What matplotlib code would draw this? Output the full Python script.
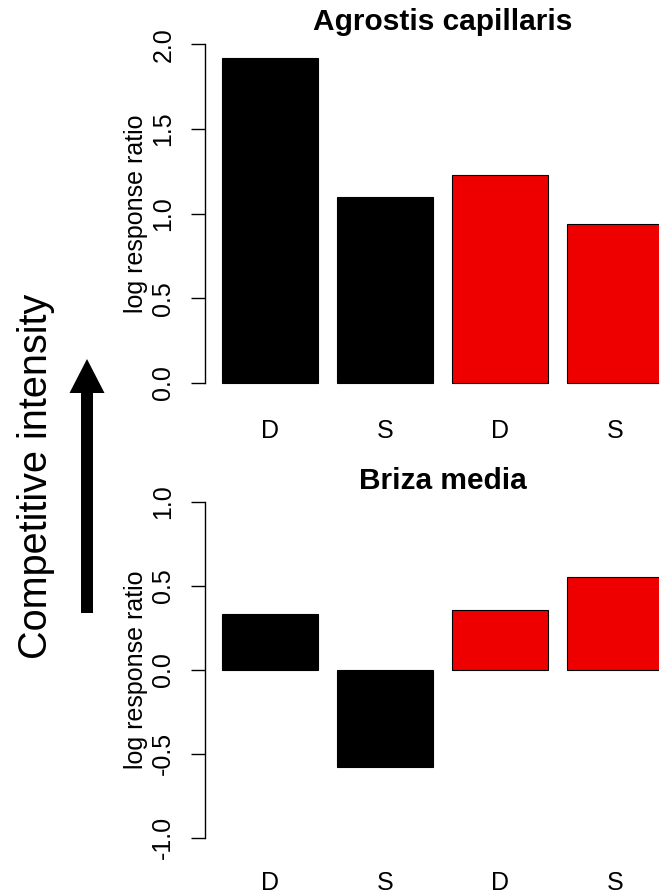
import matplotlib
matplotlib.use('Agg')
import matplotlib.pyplot as plt
from matplotlib.patches import Polygon

plt.rcParams['font.family'] = ['Liberation Sans', 'DejaVu Sans']

labels = ['D', 'S', 'D', 'S']
cols = ['black', 'black', '#EE0000', '#EE0000']
agrostis = [1.92, 1.10, 1.23, 0.94]
briza = [0.33, -0.58, 0.357, 0.552]
xs = [0.7, 1.9, 3.1, 4.3]

W, H = 659, 894
fig = plt.figure(figsize=(W / 100, H / 100), dpi=100)

def px(x0, y0, x1, y1):
    # pixel box -> figure fraction [left, bottom, width, height]
    return [x0 / W, 1 - y1 / H, (x1 - x0) / W, (y1 - y0) / H]

def panel(rect, vals, ylim, ticks, title, title_y, xpad):
    ax = fig.add_axes(rect)
    ax.bar(xs, vals, width=1.0, color=cols, edgecolor='black', linewidth=0.8)
    ax.set_xlim(0.016, 4.984)
    ax.set_ylim(*ylim)
    for s in ['top', 'right', 'bottom']:
        ax.spines[s].set_visible(False)
    ax.spines['left'].set_bounds(ticks[0], ticks[-1])
    ax.spines['left'].set_linewidth(1.0)
    ax.set_yticks(ticks)
    ax.set_yticklabels(['%.1f' % t for t in ticks])
    ax.tick_params(axis='y', length=10, width=1.0, pad=11, labelsize=18,
                   labelrotation=90)
    for t in ax.get_yticklabels():
        t.set_va('center')
    ax.set_xticks(xs)
    ax.set_xticklabels(labels)
    ax.tick_params(axis='x', length=0, pad=xpad, labelsize=18)
    ax.set_ylabel('log response ratio', fontsize=18)
    ax.yaxis.set_label_coords(-0.119, 0.5)
    fig.text(443 / W, 1 - title_y / H, title, fontsize=21.5, fontweight='bold',
             ha='center', va='center')
    return ax

panel(px(204.5, 30.8, 681, 396.5), agrostis, (-0.08, 2.08),
      [0.0, 0.5, 1.0, 1.5, 2.0], 'Agrostis capillaris', 22, 16)
panel(px(204.5, 488.3, 681, 851.1), briza, (-1.08, 1.08),
      [-1.0, -0.5, 0.0, 0.5, 1.0], 'Briza media', 481, 14)

fig.text(36 / W, 1 - 476 / H, 'Competitive intensity', rotation=90,
         fontsize=28.5, ha='center', va='center')

# arrow, in pixel coordinates
arrow_px = [(81, 613), (93, 613), (93, 393), (104.5, 393), (87, 359),
            (69.5, 393), (81, 393)]
fig.add_artist(Polygon([(x / W, 1 - y / H) for x, y in arrow_px],
                       closed=True, facecolor='black', edgecolor='none',
                       transform=fig.transFigure))

fig.savefig('out.png', dpi=100)
